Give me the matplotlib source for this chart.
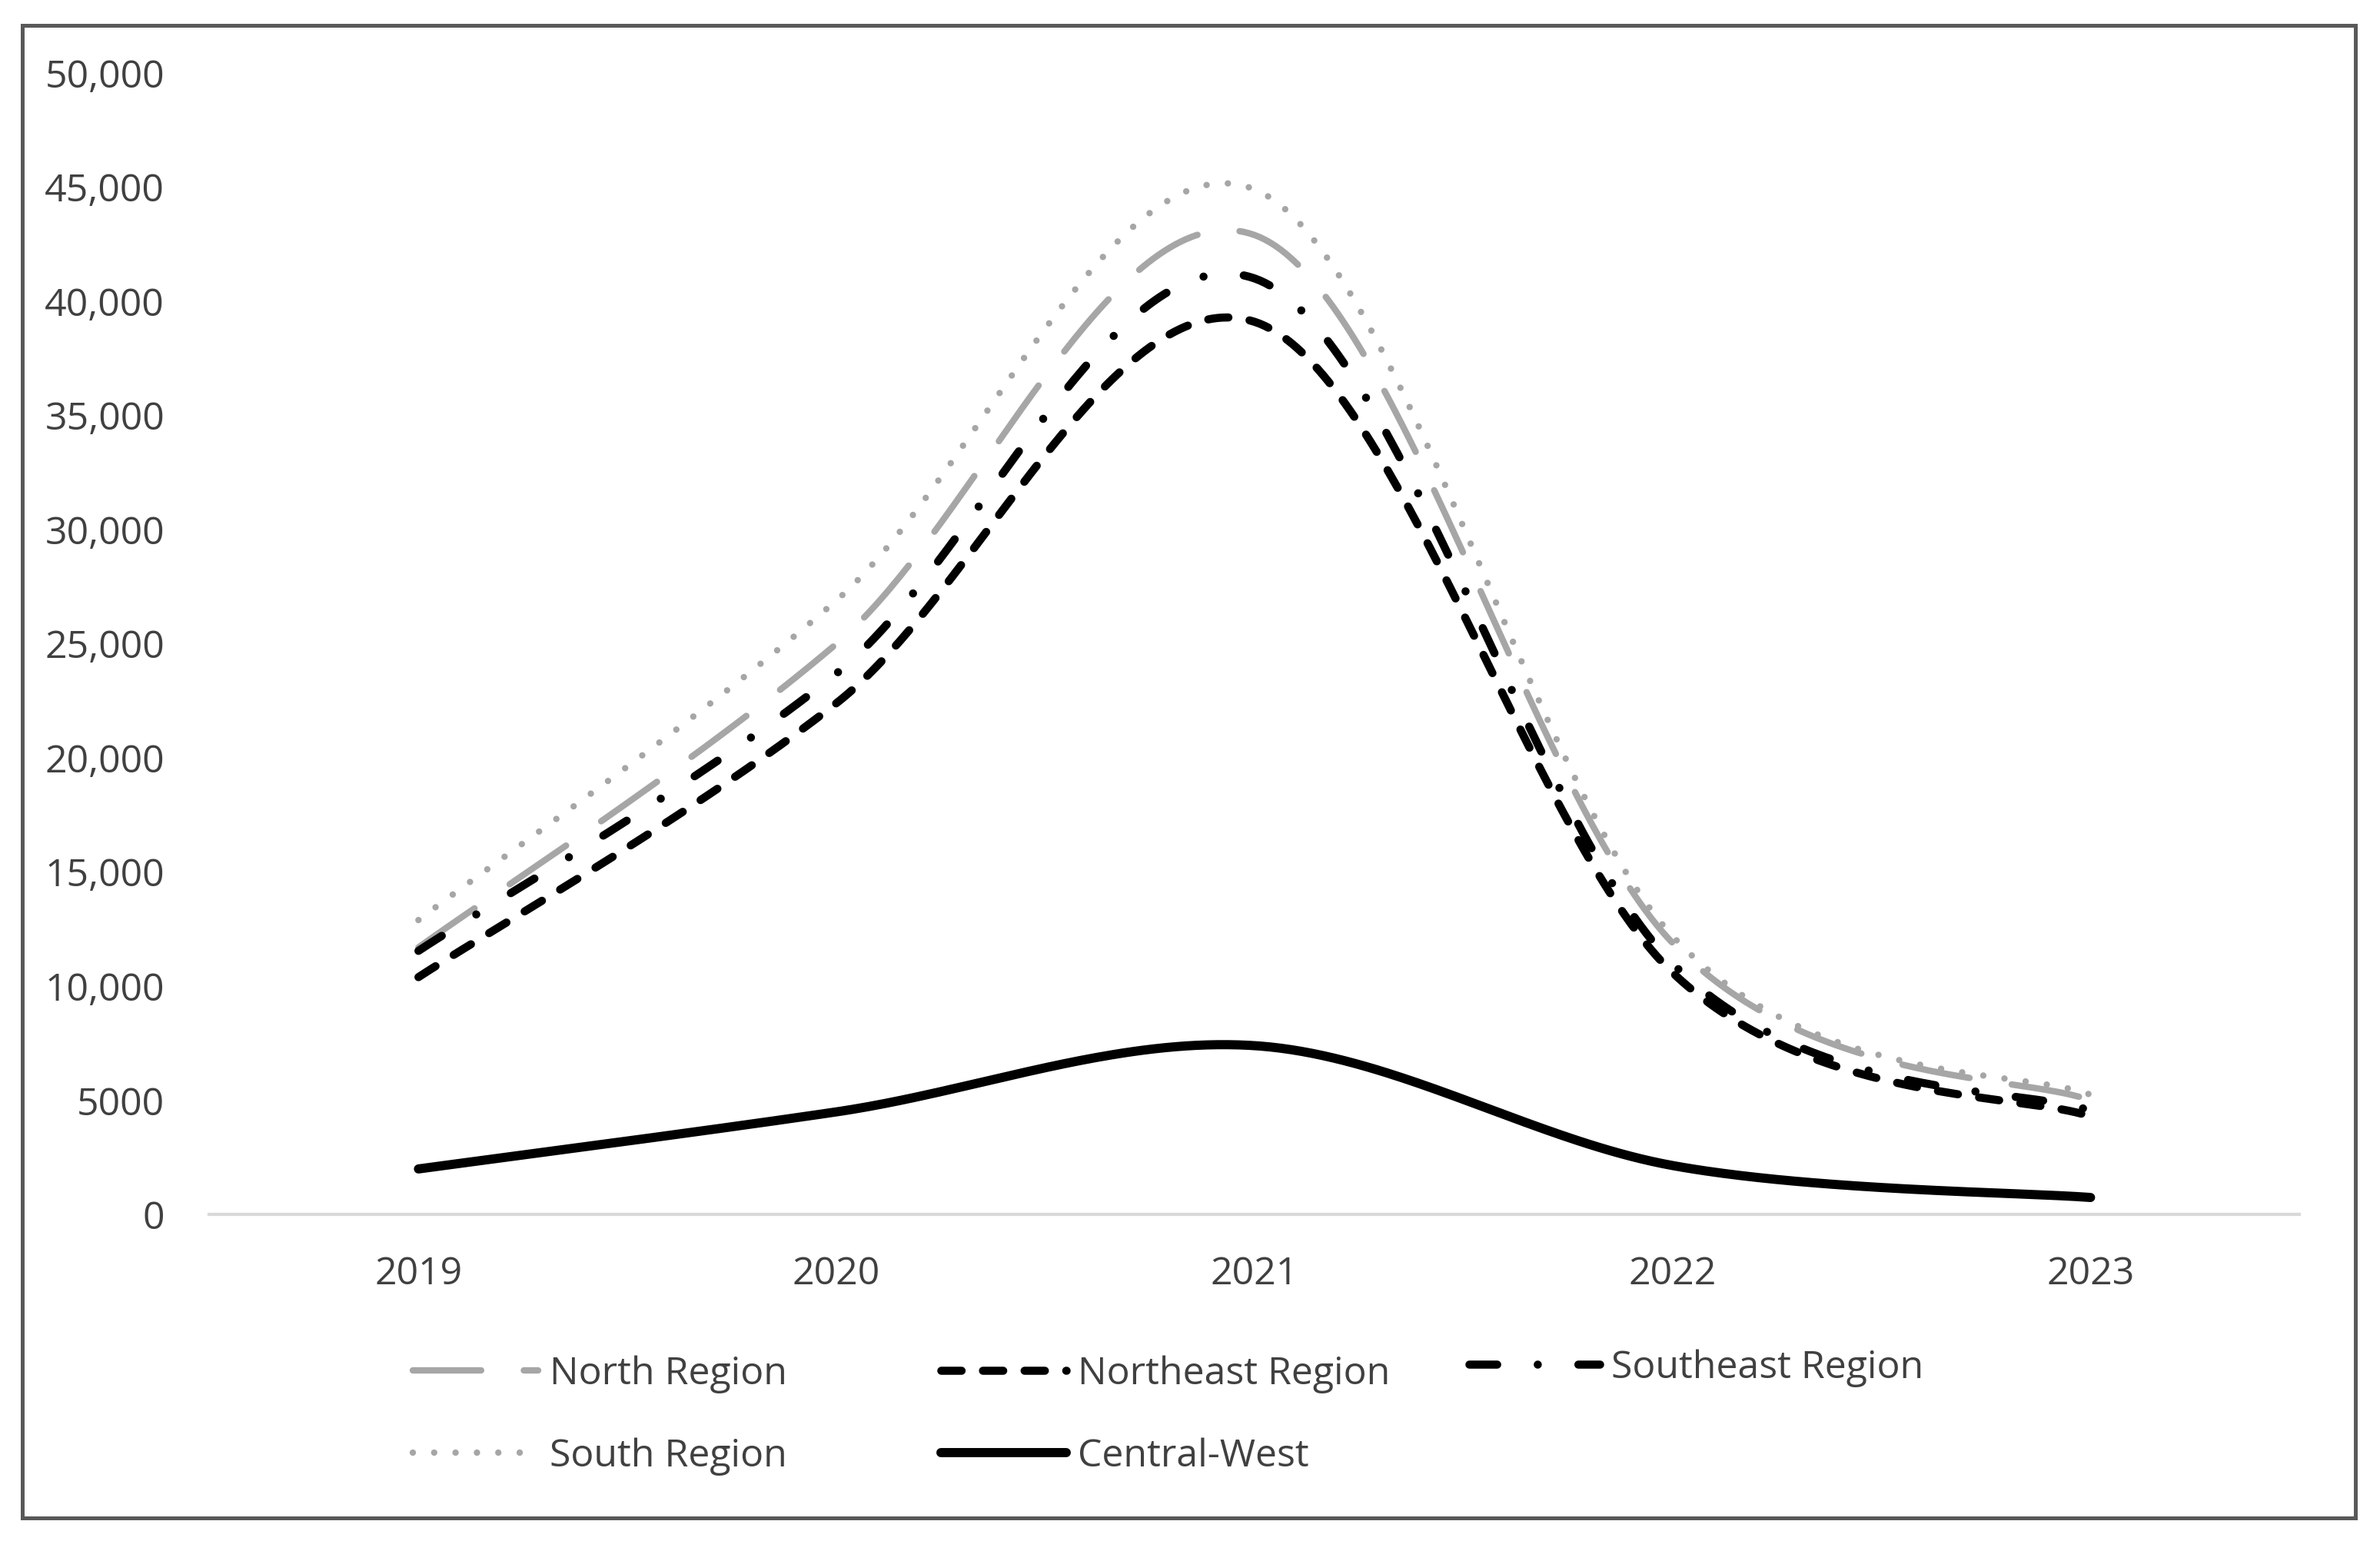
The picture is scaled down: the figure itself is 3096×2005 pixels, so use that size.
import numpy as np
import matplotlib
matplotlib.use("Agg")
import matplotlib.pyplot as plt
from matplotlib.patches import Rectangle

plt.rcParams["font.family"] = ["Open Sans", "DejaVu Sans"]
plt.rcParams["lines.scale_dashes"] = False

# ── Data ──────────────────────────────────────────────────────────────
years = [2019, 2020, 2021, 2022, 2023]
north = [11700, 25000, 42900, 11900, 5000]
northeast = [10400, 22400, 39100, 10600, 4300]
southeast = [11550, 23700, 41000, 11000, 4550]
south = [12900, 26900, 44900, 12200, 5250]
central_west = [2000, 4500, 7400, 2150, 750]

y_ticks = [0, 5000, 10000, 15000, 20000, 25000, 30000, 35000, 40000, 45000, 50000]
y_tick_labels = ["0", "5000", "10,000", "15,000", "20,000", "25,000",
                 "30,000", "35,000", "40,000", "45,000", "50,000"]

TEXT = "#404040"


def smooth(xs, ys, n=80):
    """Excel-style smoothed line: cubic Bezier through every point."""
    pts = np.column_stack([xs, ys]).astype(float)
    P = np.vstack([pts[0], pts, pts[-1]])
    t = np.linspace(0, 1, n)[:, None]
    out = []
    for i in range(len(pts) - 1):
        p0, p1, p2, p3 = P[i], P[i + 1], P[i + 2], P[i + 3]
        c1 = p1 + (p2 - p0) / 6
        c2 = p2 - (p3 - p1) / 6
        seg = ((1 - t) ** 3) * p1 + 3 * ((1 - t) ** 2) * t * c1 \
            + 3 * (1 - t) * t ** 2 * c2 + t ** 3 * p2
        out.append(seg if i == 0 else seg[1:])
    s = np.vstack(out)
    return s[:, 0], s[:, 1]


fig = plt.figure(figsize=(15.48, 10.025), dpi=200)
fig.patches.append(Rectangle((0.0094, 0.015), 0.9803, 0.9685,
                             transform=fig.transFigure, fill=False,
                             edgecolor="#595959", linewidth=1.8))

ax = fig.add_axes([0.088, 0.2118, 0.8782, 0.7409])

h_north, = ax.plot(*smooth(years, north), color="#A6A6A6", lw=3.0,
                   dashes=(32, 20), dash_capstyle="round", label="North Region")
h_ne, = ax.plot(*smooth(years, northeast), color="black", lw=3.8,
                dashes=(9.5, 10), dash_capstyle="round", label="Northeast Region")
h_se, = ax.plot(*smooth(years, southeast), color="black", lw=3.8,
                dashes=(13, 19, 0.01, 19), dash_capstyle="round",
                label="Southeast Region")
h_south, = ax.plot(*smooth(years, south), color="#A6A6A6", lw=3.0,
                   dashes=(0.01, 10), dash_capstyle="round", label="South Region")
h_cw, = ax.plot(*smooth(years, central_west), color="black", lw=4.3,
                solid_capstyle="round", label="Central-West")

ax.set_xlim(2018.5, 2023.5)
ax.set_ylim(0, 50000)
ax.set_xticks(years)
ax.set_xticklabels([str(y) for y in years])
ax.set_yticks(y_ticks)
ax.set_yticklabels(y_tick_labels)
ax.tick_params(axis="both", length=0, labelsize=18, colors=TEXT)
ax.tick_params(axis="y", pad=21)
ax.tick_params(axis="x", pad=19)
for side in ("top", "right", "left"):
    ax.spines[side].set_visible(False)
ax.spines["bottom"].set_color("#D9D9D9")
ax.spines["bottom"].set_linewidth(1.5)

# ── Legend: three columns placed by hand ──────────────────────────────
leg_kw = dict(frameon=False, fontsize=18, labelcolor=TEXT, borderpad=0,
              borderaxespad=0, handletextpad=0.3, labelspacing=1.15,
              loc="center left")
fig.legend(handles=[h_north, h_south], handlelength=3.25,
           bbox_to_anchor=(0.1735, 0.0815), **leg_kw)
fig.legend(handles=[h_ne, h_cw], handlelength=3.25,
           bbox_to_anchor=(0.3954, 0.0815), **leg_kw)
fig.legend(handles=[h_se], handlelength=3.4,
           bbox_to_anchor=(0.6173, 0.1123), **leg_kw)

fig.savefig("out.png", dpi=200)
